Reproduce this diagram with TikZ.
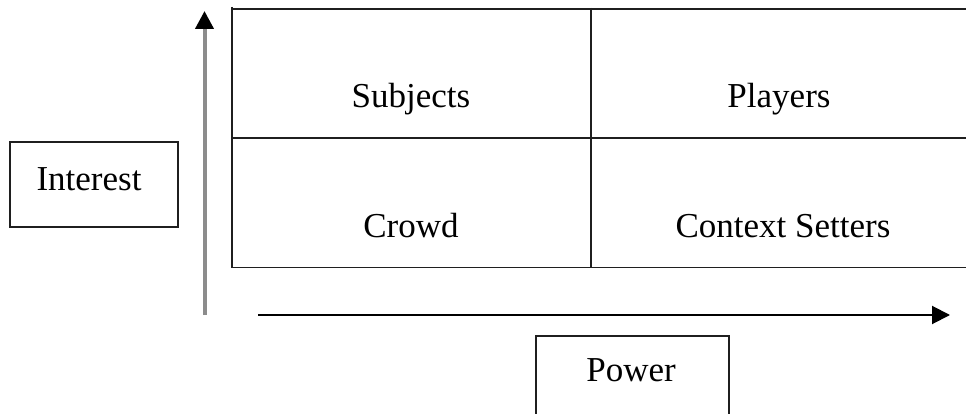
\documentclass[tikz,border=0pt]{standalone}
\usepackage{fontspec}
\setmainfont{Liberation Serif}
\usetikzlibrary{arrows.meta}
\begin{document}
\begin{tikzpicture}[x=1pt,y=-1pt,
  gridline/.style={line width=1.6pt,draw=black!88},
  lbl/.style={font=\fontsize{35}{40}\selectfont,inner sep=0pt,anchor=base},
  head/.style={-{Triangle[length=18pt,width=18pt,color=black]}}]
\useasboundingbox (0,0) rectangle (966,414);
\clip (0,0) rectangle (966,414);
% grid
\draw[gridline] (232,7) -- (232,267.5) -- (970,267.5);
\draw[gridline] (231.2,9) -- (970,9);
\draw[gridline] (232,138) -- (970,138);
\draw[gridline] (591,8) -- (591,267.5);
% cell labels
\node[lbl] (subj) at (411,108) {Subjects};
\node[lbl] (play) at (779,108) {Players};
\node[lbl] (crowd) at (411,237) {Crowd};
\node[lbl] (ctx) at (783,237) {Context Setters};
% interest box
\node[draw=black!88,line width=1.6pt,minimum width=168pt,minimum height=85pt,inner sep=0pt] (intbox) at (94,184.5) {};
\node[lbl] (int) at (89,191) {Interest};
% power box
\node[draw=black!88,line width=1.6pt,minimum width=193pt,minimum height=110pt,inner sep=0pt,anchor=north] (powbox) at (632.5,335) {};
\node[lbl] (pow) at (631,381) {Power};
% arrows
\coordinate (vs) at (204.5,315);
\coordinate (ve) at (204.5,11);
\coordinate (hs) at (258,315);
\coordinate (he) at (950,315);
\draw[head,line width=4pt,draw=black!45] (vs) -- (ve);
\draw[head,line width=2pt,draw=black] (hs) -- (he);
\end{tikzpicture}
\end{document}
